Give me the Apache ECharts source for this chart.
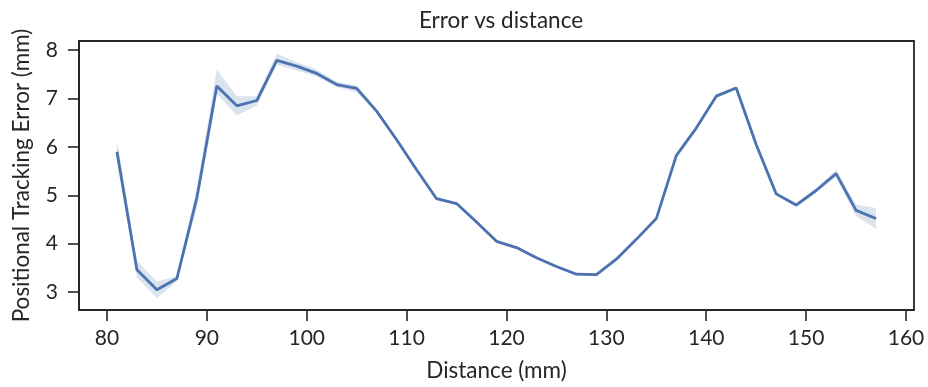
<!DOCTYPE html>
<html>
<head>
<meta charset="utf-8">
<script src="https://cdn.jsdelivr.net/npm/echarts@6/dist/echarts.min.js"></script>
<style>
  html, body { margin: 0; padding: 0; background: #fff; }
  #chart { width: 928px; height: 387px; }
</style>
</head>
<body>
<div id="chart"></div>
<script>
// distance (mm)
const distance = [81, 83, 85, 87, 89, 91, 93, 95, 97, 99, 101, 103, 105, 107, 109, 111, 113, 115, 117, 119,
  121, 123, 125, 127, 129, 131, 133, 135, 137, 139, 141, 143, 145, 147, 149, 151, 153, 155, 157];
// mean error
const meanError = [5.90, 3.46, 3.05, 3.28, 4.95, 7.26, 6.85, 6.96, 7.79, 7.67, 7.52, 7.29, 7.21, 6.74, 6.15, 5.53, 4.93, 4.83, 4.45, 4.05,
  3.92, 3.71, 3.53, 3.37, 3.36, 3.68, 4.09, 4.52, 5.82, 6.39, 7.05, 7.22, 6.05, 5.03, 4.80, 5.10, 5.45, 4.69, 4.52];
// confidence band
const lowerError = [5.75, 3.30, 2.88, 3.22, 4.75, 7.10, 6.65, 6.85, 7.70, 7.58, 7.45, 7.24, 7.13, 6.69, 6.12, 5.50, 4.90, 4.80, 4.42, 4.02,
  3.89, 3.68, 3.50, 3.34, 3.33, 3.65, 4.06, 4.49, 5.78, 6.35, 7.01, 7.18, 6.01, 4.99, 4.76, 5.06, 5.38, 4.57, 4.31];
const upperError = [6.15, 3.65, 3.22, 3.33, 5.15, 7.60, 7.05, 7.05, 7.93, 7.75, 7.60, 7.35, 7.27, 6.78, 6.18, 5.56, 4.96, 4.86, 4.48, 4.08,
  3.95, 3.74, 3.56, 3.40, 3.39, 3.71, 4.12, 4.55, 5.86, 6.43, 7.09, 7.26, 6.09, 5.07, 4.84, 5.14, 5.53, 4.81, 4.74];
const xTicks = [80, 90, 100, 110, 120, 130, 140, 150, 160];
const yTicks = [3, 4, 5, 6, 7, 8];

const chart = echarts.init(document.getElementById('chart'));
const font = 'Lato, "DejaVu Sans", sans-serif';
const ink = '#262626';

const bandData = distance.map((d, i) => [d, lowerError[i], upperError[i]]);

const option = {
  animation: false,
  title: {
    text: 'Error vs distance',
    left: 496, top: 4, textAlign: 'center',
    textStyle: { fontFamily: font, fontSize: 22.5, fontWeight: 'normal', color: ink }
  },
  grid: {
    left: 79, right: 14, top: 41, bottom: 76,
    show: true, borderColor: ink, borderWidth: 1.8, backgroundColor: 'transparent'
  },
  xAxis: {
    type: 'value', min: 77.2, max: 160.8,
    name: 'Distance (mm)', nameLocation: 'middle', nameGap: 49,
    nameTextStyle: { fontFamily: font, fontSize: 22.5, color: ink },
    axisLine: { show: true, lineStyle: { color: ink, width: 1.8 } },
    axisTick: { show: true, length: 11, lineStyle: { color: ink, width: 1.6 }, customValues: xTicks },
    axisLabel: { fontFamily: font, fontSize: 21, color: ink, margin: 18, customValues: xTicks },
    splitLine: { show: false }
  },
  yAxis: {
    type: 'value', min: 2.63, max: 8.19,
    name: 'Positional Tracking Error (mm)', nameLocation: 'middle', nameGap: 46,
    nameTextStyle: { fontFamily: font, fontSize: 22.5, color: ink },
    axisLine: { show: true, lineStyle: { color: ink, width: 1.8 } },
    axisTick: { show: true, length: 11, lineStyle: { color: ink, width: 1.6 }, customValues: yTicks },
    axisLabel: { fontFamily: font, fontSize: 21, color: ink, margin: 21, customValues: yTicks },
    splitLine: { show: false }
  },
  series: [
    {
      type: 'custom',
      data: bandData,
      silent: true,
      renderItem: function (params, api) {
        if (params.dataIndex !== 0) return null;
        const pts = [];
        for (let i = 0; i < bandData.length; i++) pts.push(api.coord([bandData[i][0], bandData[i][2]]));
        for (let i = bandData.length - 1; i >= 0; i--) pts.push(api.coord([bandData[i][0], bandData[i][1]]));
        return {
          type: 'polygon',
          shape: { points: pts },
          style: { fill: 'rgba(76,114,176,0.2)', stroke: null }
        };
      },
      z: 1
    },
    {
      type: 'line',
      data: distance.map((d, i) => [d, meanError[i]]),
      showSymbol: false,
      lineStyle: { color: '#4c72b0', width: 2.8 },
      z: 2
    }
  ]
};
chart.setOption(option);
</script>
</body>
</html>
